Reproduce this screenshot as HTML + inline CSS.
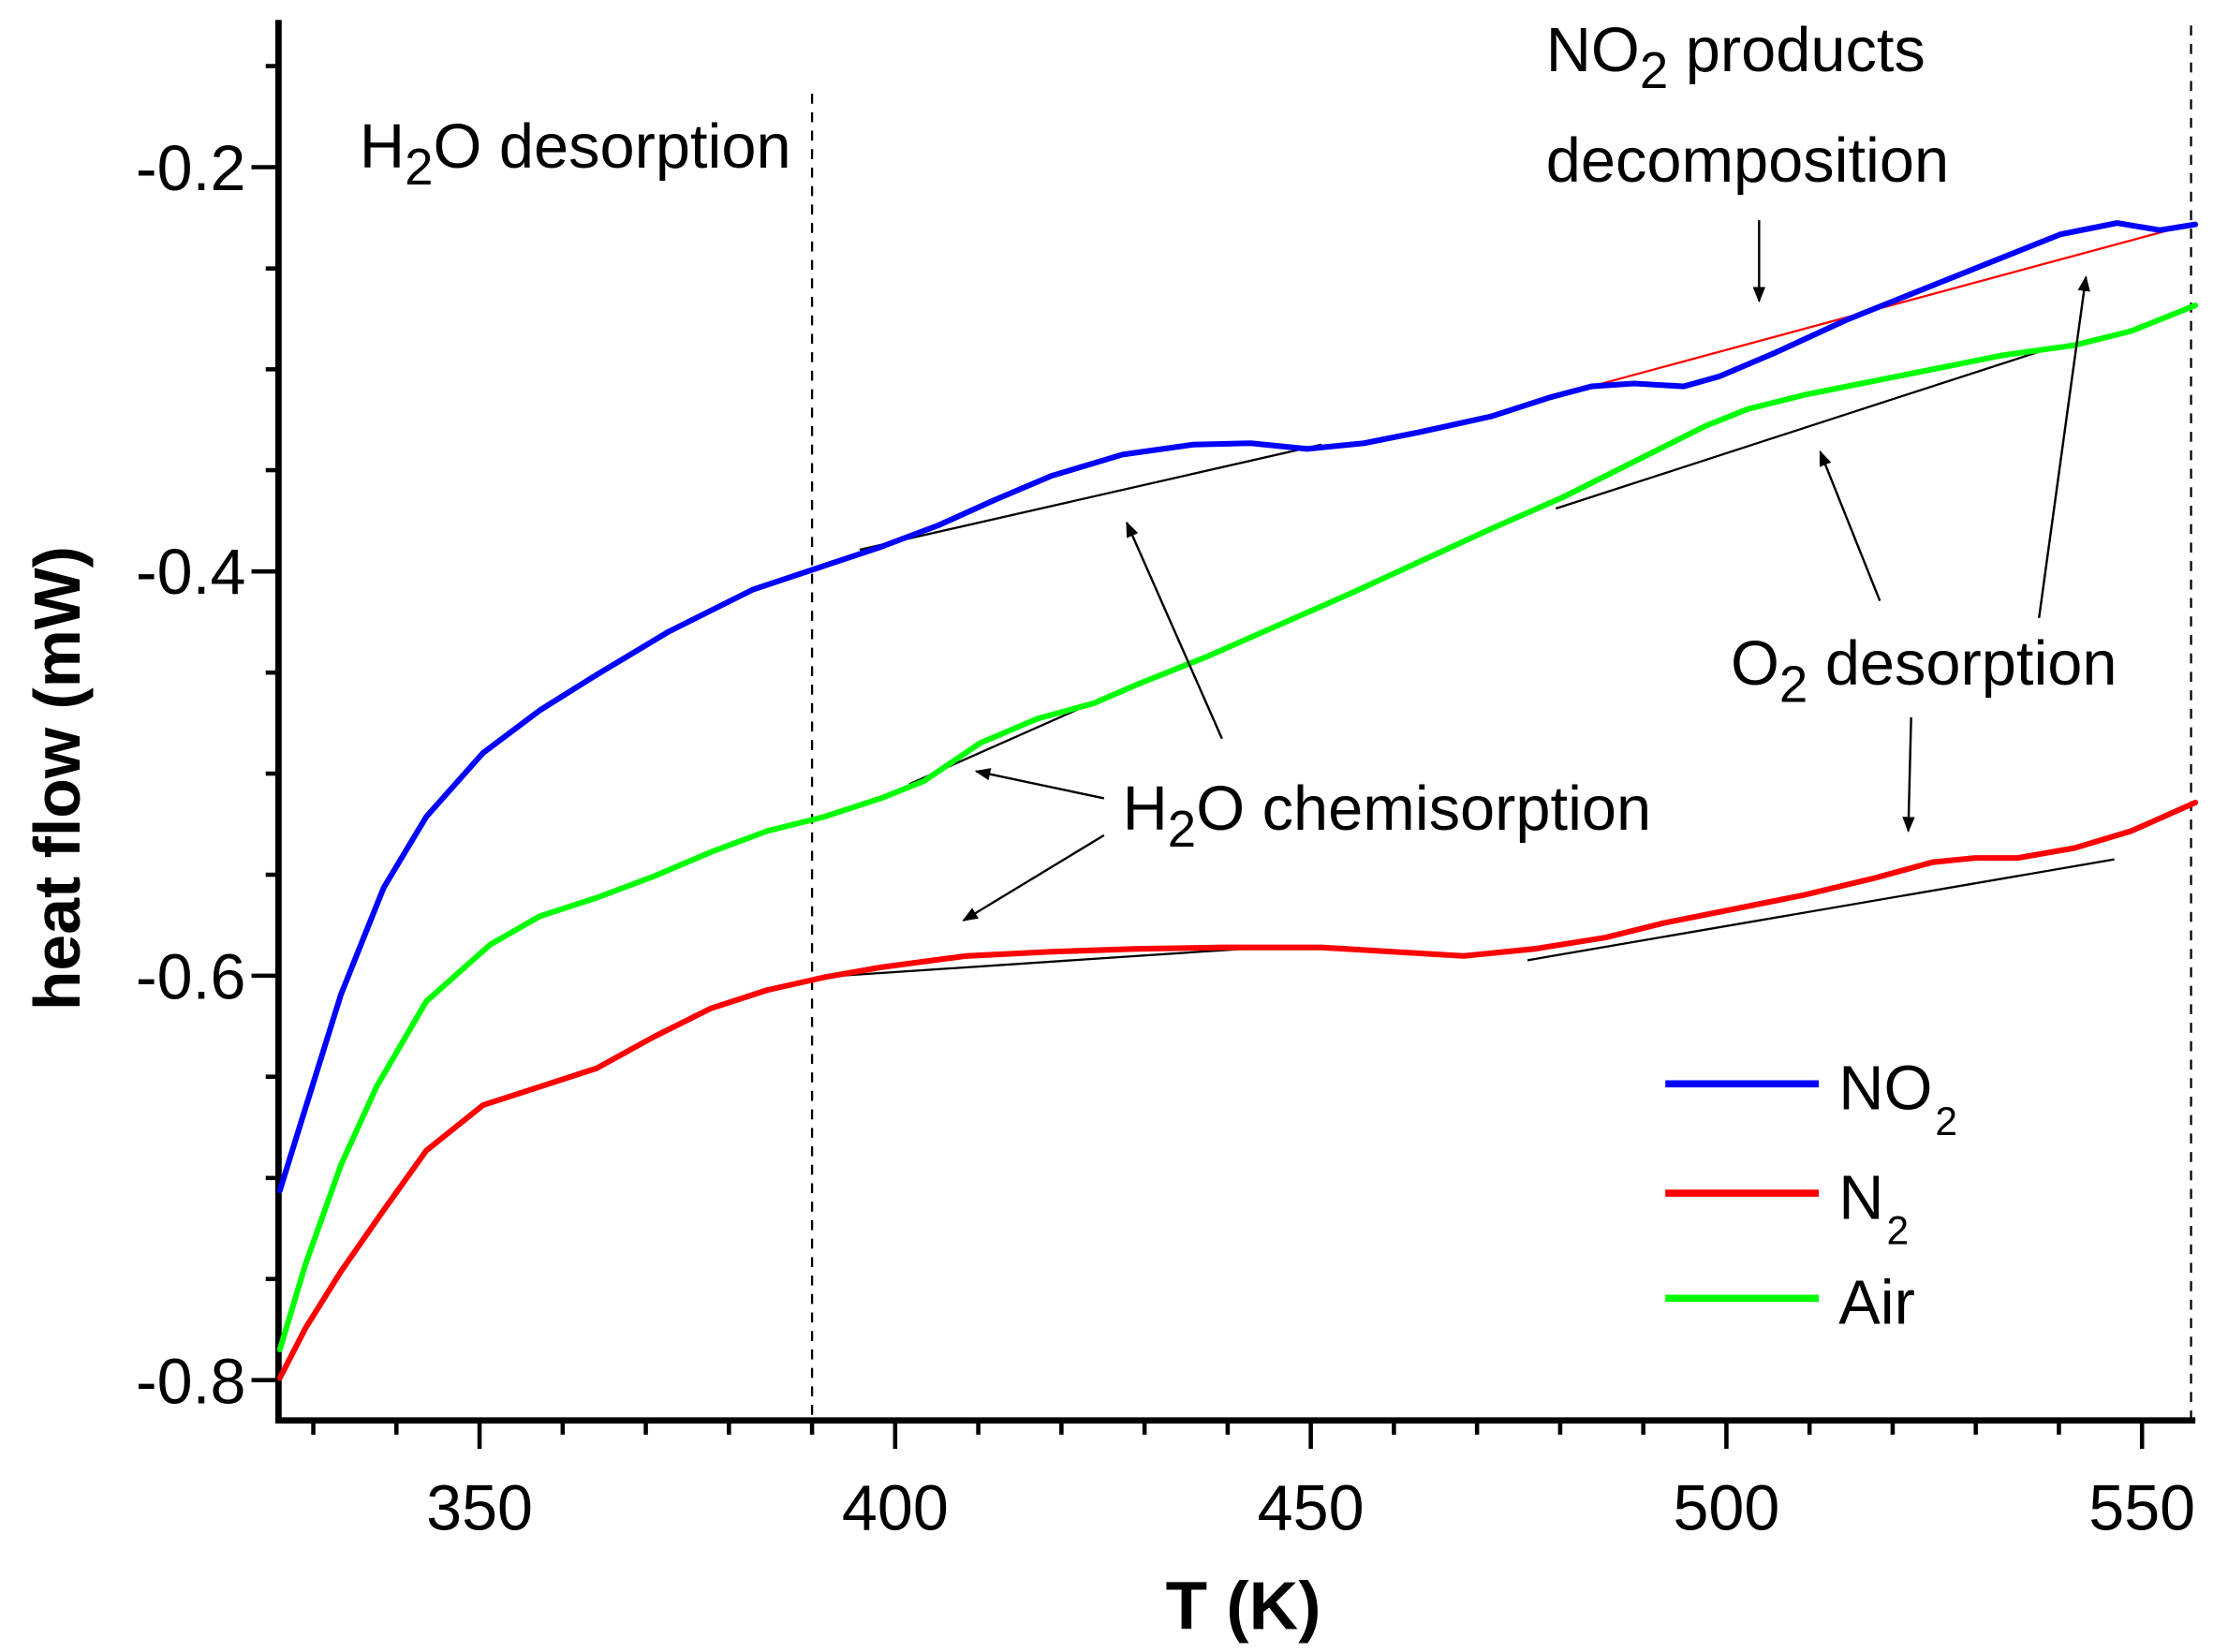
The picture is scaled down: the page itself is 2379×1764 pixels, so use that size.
<!DOCTYPE html>
<html><head><meta charset="utf-8"><style>
html,body{margin:0;padding:0;background:#fff;}
svg{display:block;}
text{font-family:"Liberation Sans",Arial,sans-serif;fill:#000;}
</style></head><body>
<svg width="2379" height="1764" viewBox="0 0 1568 1163" preserveAspectRatio="none" xmlns="http://www.w3.org/2000/svg">
<rect width="1568" height="1163" fill="#fff"/>
<line x1="571.5" y1="66" x2="571.5" y2="1000" stroke="#000" stroke-width="1.5" stroke-dasharray="7,6"/>
<line x1="1542" y1="18" x2="1542" y2="1000" stroke="#000" stroke-width="1.5" stroke-dasharray="7,6"/>
<line x1="196" y1="14" x2="196" y2="1002" stroke="#000" stroke-width="4.5"/>
<line x1="194" y1="1000" x2="1545" y2="1000" stroke="#000" stroke-width="4.5"/>
<g stroke="#000" stroke-width="3">
<line x1="177" y1="117.7" x2="196" y2="117.7"/><line x1="177" y1="402.3" x2="196" y2="402.3"/><line x1="177" y1="686.9" x2="196" y2="686.9"/><line x1="177" y1="971.6" x2="196" y2="971.6"/>
<line x1="187" y1="46.5" x2="196" y2="46.5"/><line x1="187" y1="189" x2="196" y2="189"/><line x1="187" y1="260" x2="196" y2="260"/><line x1="187" y1="331" x2="196" y2="331"/><line x1="187" y1="473.5" x2="196" y2="473.5"/><line x1="187" y1="544.6" x2="196" y2="544.6"/><line x1="187" y1="615.8" x2="196" y2="615.8"/><line x1="187" y1="758" x2="196" y2="758"/><line x1="187" y1="829.3" x2="196" y2="829.3"/><line x1="187" y1="900.4" x2="196" y2="900.4"/>
<line x1="337.5" y1="1000" x2="337.5" y2="1020"/><line x1="630" y1="1000" x2="630" y2="1020"/><line x1="922.5" y1="1000" x2="922.5" y2="1020"/><line x1="1215" y1="1000" x2="1215" y2="1020"/><line x1="1507.5" y1="1000" x2="1507.5" y2="1020"/>
<line x1="220.5" y1="1000" x2="220.5" y2="1010"/><line x1="279" y1="1000" x2="279" y2="1010"/><line x1="396" y1="1000" x2="396" y2="1010"/><line x1="454.5" y1="1000" x2="454.5" y2="1010"/><line x1="513" y1="1000" x2="513" y2="1010"/><line x1="571.5" y1="1000" x2="571.5" y2="1010"/><line x1="688.5" y1="1000" x2="688.5" y2="1010"/><line x1="747" y1="1000" x2="747" y2="1010"/><line x1="805.5" y1="1000" x2="805.5" y2="1010"/><line x1="864" y1="1000" x2="864" y2="1010"/><line x1="981" y1="1000" x2="981" y2="1010"/><line x1="1039.5" y1="1000" x2="1039.5" y2="1010"/><line x1="1098" y1="1000" x2="1098" y2="1010"/><line x1="1156.5" y1="1000" x2="1156.5" y2="1010"/><line x1="1273.5" y1="1000" x2="1273.5" y2="1010"/><line x1="1332" y1="1000" x2="1332" y2="1010"/><line x1="1390.5" y1="1000" x2="1390.5" y2="1010"/><line x1="1449" y1="1000" x2="1449" y2="1010"/>
</g>
<g font-size="45" text-anchor="end">
<text x="173" y="134">-0.2</text><text x="173" y="418">-0.4</text><text x="173" y="703">-0.6</text><text x="173" y="988">-0.8</text>
</g>
<g font-size="45" text-anchor="middle">
<text x="337.5" y="1077">350</text><text x="630" y="1077">400</text><text x="922.5" y="1077">450</text><text x="1215" y="1077">500</text><text x="1507.5" y="1077">550</text>
</g>
<text x="875" y="1147" font-size="48" font-weight="bold" text-anchor="middle">T (K)</text>
<text transform="translate(56,548) rotate(-90)" font-size="46" font-weight="bold" text-anchor="middle">heat flow (mW)</text>
<g stroke="#000" stroke-width="1.5">
<line x1="590" y1="687" x2="890" y2="667"/><line x1="1075" y1="676" x2="1488" y2="605"/>
<line x1="640" y1="552" x2="800" y2="481"/><line x1="1095" y1="358" x2="1443" y2="245"/>
<line x1="605" y1="387" x2="930" y2="313"/>
</g>
<line x1="1120" y1="272" x2="1545" y2="157" stroke="#f00" stroke-width="1.5"/>
<g fill="none" stroke-width="4" stroke-linejoin="round" stroke-linecap="round">
<polyline stroke="#00f" points="197,838 215,780 240,700 270,625 300,575 340,530 380,500 420,475 470,445 530,415 575,400 620,385 660,370 700,352 740,335 790,320 840,313 880,312 920,316 960,312 1000,304 1050,293 1090,280 1120,272 1150,270 1185,272 1210,265 1250,248 1300,225 1350,205 1400,185 1450,165 1490,157 1520,162 1545,158"/>
<polyline stroke="#0f0" points="197,950 215,890 240,820 265,765 300,705 345,665 380,645 420,632 460,617 500,600 540,585 580,575 620,562 650,550 690,523 730,506 770,495 800,482 850,462 900,440 950,418 1000,395 1050,372 1100,350 1150,325 1200,300 1230,288 1270,278 1310,270 1360,260 1410,250 1460,243 1500,233 1545,215"/>
<polyline stroke="#f00" points="197,970 215,935 240,895 270,852 300,810 340,778 380,765 420,752 460,730 500,710 540,697 580,688 620,681 680,673 740,670 800,668 860,667 930,667 980,670 1030,673 1080,668 1130,660 1170,650 1220,640 1270,630 1320,618 1360,607 1390,604 1420,604 1460,597 1500,585 1545,565"/>
</g>
<defs><marker id="ah" viewBox="0 0 10 10" refX="9" refY="5" markerWidth="11" markerHeight="11" markerUnits="userSpaceOnUse" orient="auto"><path d="M0,1 L10,5 L0,9 z" fill="#000"/></marker></defs>
<g stroke="#000" stroke-width="1.6" marker-end="url(#ah)">
<line x1="1238" y1="155" x2="1238" y2="212"/>
<line x1="860" y1="520" x2="793" y2="368"/>
<line x1="777" y1="562" x2="687" y2="543"/>
<line x1="777" y1="588" x2="678" y2="648"/>
<line x1="1323" y1="423" x2="1281" y2="318"/>
<line x1="1435" y1="435" x2="1468" y2="195"/>
<line x1="1345" y1="505" x2="1343" y2="585"/>
</g>
<g font-size="44">
<text x="253" y="118">H<tspan font-size="36" dy="12">2</tspan><tspan dy="-12">O desorption</tspan></text>
<text x="1088" y="50">NO<tspan font-size="36" dy="12">2</tspan><tspan dy="-12"> products</tspan></text>
<text x="1088" y="128">decomposition</text>
<text x="1218" y="482">O<tspan font-size="36" dy="12">2</tspan><tspan dy="-12"> desorption</tspan></text>
<text x="790" y="584">H<tspan font-size="36" dy="12">2</tspan><tspan dy="-12">O chemisorption</tspan></text>
</g>
<line x1="1172" y1="763" x2="1280" y2="763" stroke="#00f" stroke-width="5"/>
<line x1="1172" y1="840" x2="1280" y2="840" stroke="#f00" stroke-width="5"/>
<line x1="1172" y1="914" x2="1280" y2="914" stroke="#0f0" stroke-width="5"/>
<g font-size="44">
<text x="1294" y="781">NO<tspan font-size="28" dx="2" dy="18">2</tspan></text>
<text x="1294" y="858">N<tspan font-size="28" dx="2" dy="18">2</tspan></text>
<text x="1294" y="932">Air</text>
</g>
</svg>
</body></html>
